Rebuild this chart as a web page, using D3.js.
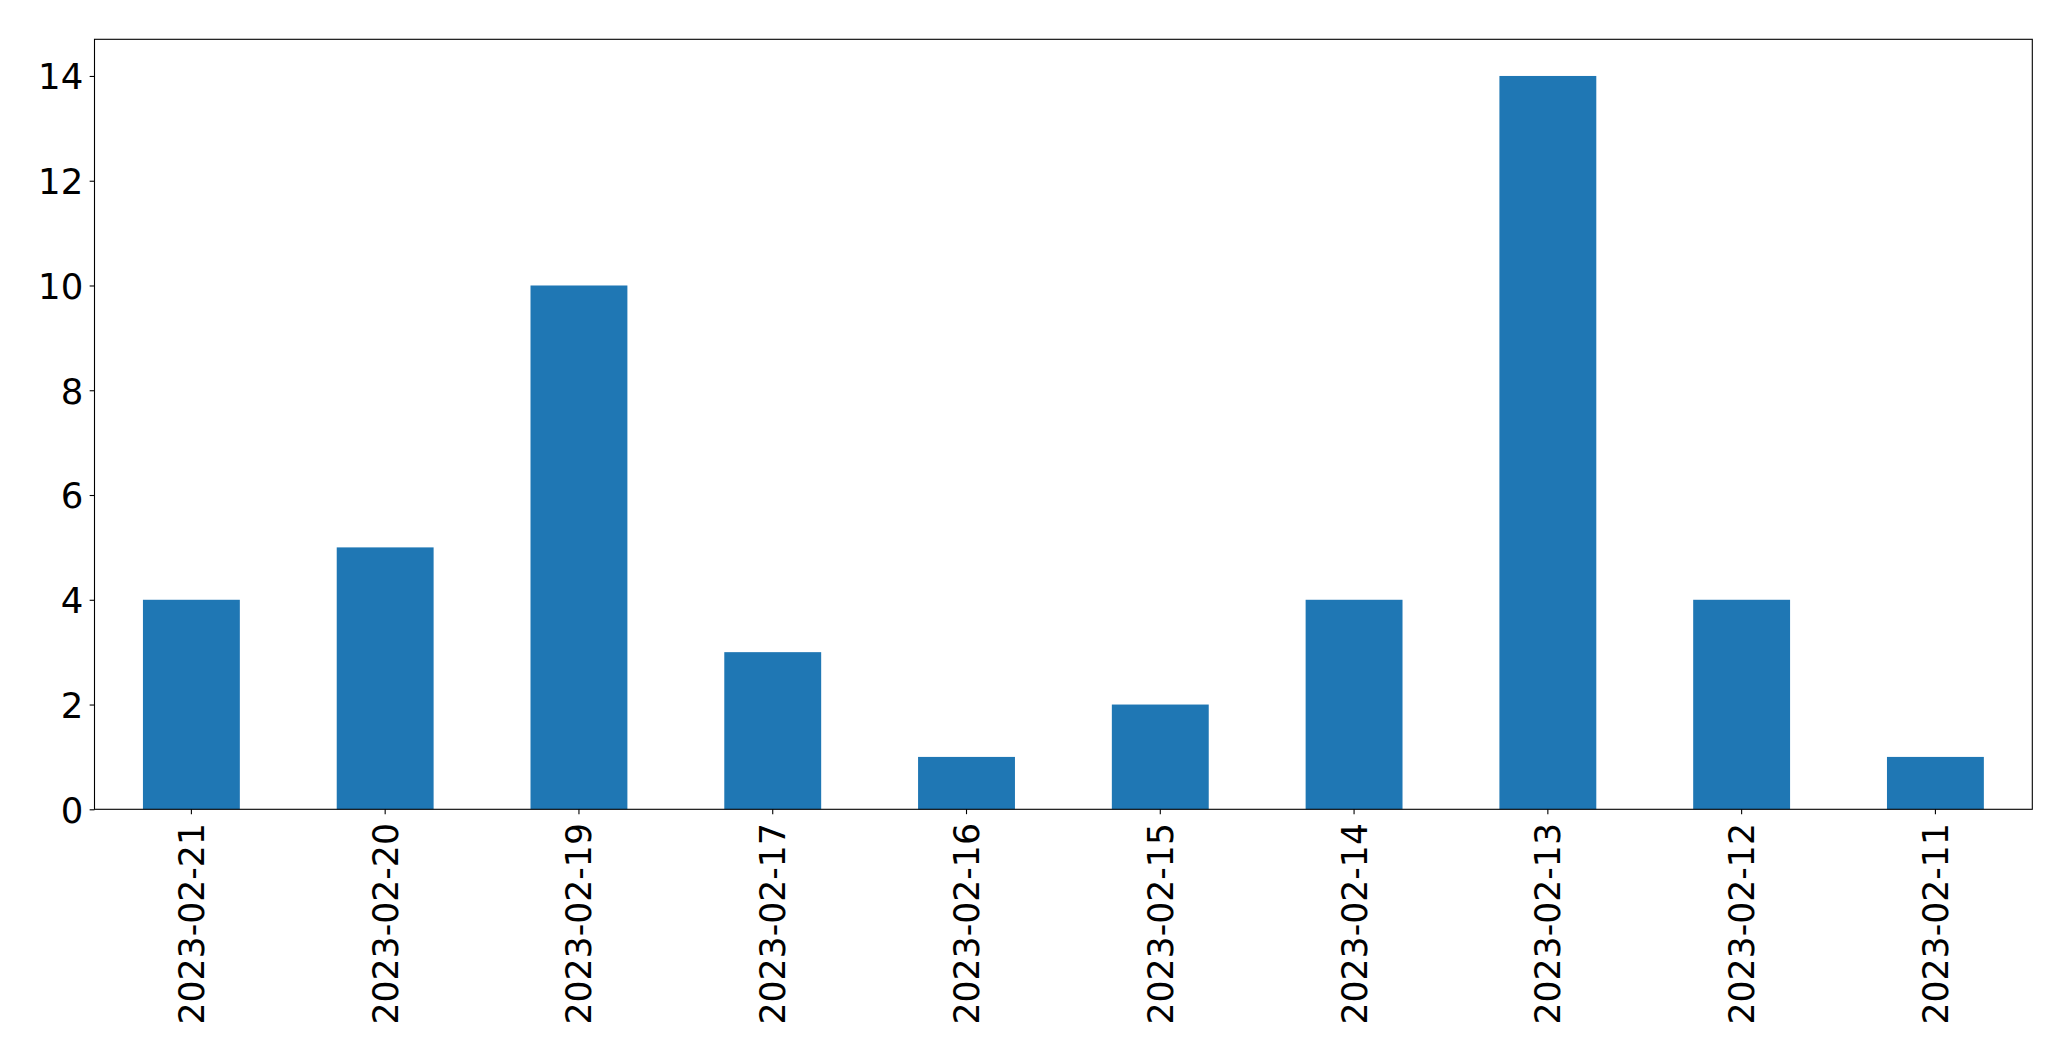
<!DOCTYPE html>
<html><head><meta charset="utf-8">
<script src="https://cdn.jsdelivr.net/npm/d3@7"></script>
<style>body{margin:0;background:#fff}svg{display:block}text{font-family:"DejaVu Sans",sans-serif}</style>
</head><body>
<svg id="c" width="2071" height="1061"></svg>
<script>
const categories = ["2023-02-21","2023-02-20","2023-02-19","2023-02-17","2023-02-16","2023-02-15","2023-02-14","2023-02-13","2023-02-12","2023-02-11"];
const values = [4,5,10,3,1,2,4,14,4,1];
const yTicks = [0,2,4,6,8,10,12,14];

const W = 2071, H = 1061;
const m = {left: 94.5, top: 39.3, right: 2032.3, bottom: 809.3};
const fs = 34.7, tickLen = 4.86, pad = 4.86;
const svg = d3.select("#c");

const x = d3.scaleBand().domain(categories).range([m.left, m.right]).paddingInner(0.5).paddingOuter(0.25);
const y = d3.scaleLinear().domain([0, 14.7]).range([m.bottom, m.top]);

svg.append("g").selectAll("rect").data(values).join("rect")
  .attr("x", (d,i) => x(categories[i]))
  .attr("width", x.bandwidth())
  .attr("y", d => y(d))
  .attr("height", d => y(0) - y(d))
  .attr("fill", "#1f77b4");

// frame
svg.append("rect").attr("x", m.left).attr("y", m.top)
  .attr("width", m.right - m.left).attr("height", m.bottom - m.top)
  .attr("fill", "none").attr("stroke", "#000").attr("stroke-width", 1.1);

// y axis
const yAxis = d3.axisLeft(y).tickValues(yTicks).tickSize(tickLen).tickPadding(pad + 1.5).tickFormat(d3.format("d"));
const gy = svg.append("g").attr("transform", `translate(${m.left},0)`).call(yAxis);
gy.select(".domain").remove();
gy.selectAll("line").attr("stroke", "#000").attr("stroke-width", 1.1);
gy.selectAll("text").attr("font-size", fs + 0.8).attr("fill", "#000").attr("font-family", "DejaVu Sans").attr("dy", "0.36em");

// x axis
const xAxis = d3.axisBottom(x).tickSize(tickLen).tickPadding(pad);
const gx = svg.append("g").attr("transform", `translate(0,${m.bottom})`).call(xAxis);
gx.select(".domain").remove();
gx.selectAll("line").attr("stroke", "#000").attr("stroke-width", 1.1);
gx.selectAll("text")
  .attr("font-size", fs).attr("fill", "#000").attr("font-family", "DejaVu Sans")
  .attr("text-anchor", "end")
  .attr("y", null).attr("dy", "0.36em")
  .attr("transform", `translate(0,${tickLen + pad + 4}) rotate(-90)`);
</script>
</body></html>
